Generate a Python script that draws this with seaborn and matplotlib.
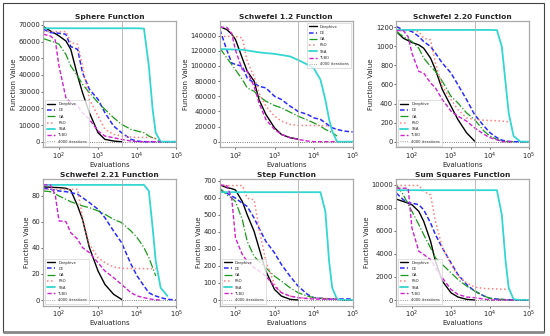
import numpy as np
import pandas as pd
import seaborn as sns
import matplotlib.pyplot as plt
from matplotlib.patches import Rectangle

N = np.nan

# evaluation grid shared by all curves
EVALS = [40, 60, 80, 100, 150, 200, 300, 400, 600, 1000, 1500, 2500, 4000,
         7000, 10000, 15000, 20000, 25000, 30000, 40000, 60000, 100000]

ALGOS = ["Deephive", "DE", "GA", "PSO", "SSA", "TLBO"]

sphere = {
    "Deephive": [69000, 66400, 64800, 63400, 60400, 55400, 39400, 29400, 17400, 5400, 1400, 400, 0] + [N] * 9,
    "DE": [67400, 65400, 65200, 65000, 64400, 57000, 55400, 41400, 31400, 25400, 17400, 9400, 5400, 1400, 400, 0, 0, 0, 0, 0, 0, 0],
    "GA": [61800, 60400, 59500, 58400, 52400, 45400, 39400, 34400, 29400, 23400, 19400, 14400, 10400, 7400, 6400, 5400, 3400, 2400, 1800, 400, N, N],
    "PSO": [66000, 66000, 66000, 66000, 66000, 59400, 58400, 45400, 25400, 15400, 7400, 4400, 3400, 2800, 2600, 2600, 2600, 2400, 1800, N, N, N],
    "SSA": [68000] * 15 + [67800, 45400, 19400, 5400, 0, 0, 0],
    "TLBO": [64400, 63400, 61000, 45400, 26400, 23400, 21400, 17400, 13400, 6400, 3400, 2400, 1400, 400, 0, 0, 0, 0, 0, 0, N, N],
}

schwefel_12 = {
    "Deephive": [152000, 148000, 142000, 135000, 110000, 93000, 80000, 55700, 36000, 18400, 9600, 5300, 3500] + [N] * 9,
    "DE": [148000, 121000, 104000, 102000, 99500, 84000, 77600, 73200, 71000, 60000, 55700, 47000, 40000, 36000, 31600, 29400, 25000, 21000, 18400, 16200, 14000, 13000],
    "GA": [123600, 110500, 102000, 95000, 82000, 71000, 66600, 60000, 53500, 47800, 44700, 39000, 33800, 28500, 25000, 20600, 16200, 14000, 11800, 7500, N, N],
    "PSO": [139000, 139000, 139000, 139000, 137000, 106000, 86000, 64400, 47000, 33800, 27200, 22800, 21500, 21500, 21400, 21200, 21000, 20800, 20600, N, N, N],
    "SSA": [122300, 122000, 121800, 121600, 121400, 120500, 119000, 118000, 117000, 116000, 114500, 112600, 108000, 101700, 97300, 82000, 55700, 29400, 14000, 0, 0, 0],
    "TLBO": [151000, 151000, 143000, 121000, 95000, 93000, 73000, 51300, 29400, 16200, 9600, 5300, 3100, 900, 0, 0, 0, 0, 0, 0, N, N],
}

schwefel_220 = {
    "Deephive": [1155, 1085, 1060, 1040, 1015, 980, 876, 755, 546, 372, 233, 94, 7] + [N] * 9,
    "DE": [1207, 1172, 1165, 1155, 1103, 1050, 998, 929, 824, 720, 598, 442, 285, 163, 94, 42, 17, 8, 4, 0, 0, 0],
    "GA": [1155, 1103, 1075, 1050, 980, 876, 790, 737, 633, 476, 407, 302, 233, 111, 59, 24, 7, 3, 1, 0, N, N],
    "PSO": [1165, 1165, 1165, 1165, 1155, 1085, 1068, 824, 580, 442, 337, 250, 233, 225, 222, 220, 216, 212, 208, N, N, N],
    "SSA": [1172] * 15 + [1170, 998, 616, 302, 59, 0, 0],
    "TLBO": [1165, 1165, 1100, 929, 737, 720, 616, 563, 442, 320, 268, 216, 146, 77, 42, 20, 0, 0, 0, 0, N, N],
}

schwefel_221 = {
    "Deephive": [86.9, 86.7, 86.5, 86.4, 85.9, 84.4, 72.3, 62, 40.3, 22.3, 12, 4.4, 0.5] + [N] * 9,
    "DE": [85.9, 85.1, 84.5, 83.8, 83.3, 82.6, 81.3, 78.7, 74.9, 69.7, 63.3, 53, 44.1, 27.4, 18.5, 10.8, 5.6, 4, 3.1, 1.8, 0.5, 0],
    "GA": [83.8, 83.3, 81.5, 80, 77.4, 75.6, 73.6, 72.3, 71, 68.5, 65.9, 62, 59.5, 53, 48, 40.3, 32.6, 24.9, 18.5, N, N, N],
    "PSO": [85.1] * 7 + [63.3, 42.8, 32.6, 28.7, 25.4, 24.4, 24.2, 24.2, 24.1, 24.1, 24.1, 24.1, N, N, N],
    "SSA": [88.5] * 16 + [83.8, 55.6, 30, 9.5, 3.1, N],
    "TLBO": [88.5, 88.5, 81, 60.8, 60.3, 51.8, 46.7, 40.3, 36.4, 28.7, 22.3, 17.2, 12, 5.6, 3.1, 1.8, 1, 0.5, 0.2, 0, N, N],
}

step = {
    "Deephive": [677, 661, 655, 647, 579, 501, 404, 306, 170, 62, 23, 4, 0] + [N] * 9,
    "DE": [647, 628, 612, 599, 569, 550, 482, 423, 345, 277, 209, 140, 82, 33, 14, 10, 8, 7, 7, 6, 6, 6],
    "GA": [657, 618, 600, 579, 472, 345, 257, 228, 189, 140, 111, 72, 43, 23, 14, 10, 8, 7, 7, 6, N, N],
    "PSO": [673] * 5 + [599, 589, 423, 228, 92, 43, 23, 14, 11, 10, 9, 9, 8, 8, 8, N, N],
    "SSA": [634] * 16 + [521, 228, 72, 4, 0, 0],
    "TLBO": [677, 673, 600, 365, 267, 228, 189, 170, 140, 82, 43, 23, 14, 8, 6, 5, 5, 4, 4, 4, N, N],
}

sum_squares = {
    "Deephive": [8750, 8550, 8400, 8265, 7690, 6830, 5100, 3370, 1640, 630, 260, 60, 0] + [N] * 9,
    "DE": [9270, 8700, 8450, 8410, 8265, 7830, 6680, 5670, 4520, 3225, 2220, 1350, 780, 345, 145, 80, 50, 30, 20, 0, 0, 0],
    "GA": [9990, 9130, 8300, 7690, 6540, 5670, 4520, 3660, 3080, 2360, 1790, 1210, 780, 345, 145, 80, 50, 30, 20, 0, N, N],
    "PSO": [9940, 9940, 9940, 9940, 9940, 9420, 9130, 6830, 4520, 3080, 2070, 1500, 1120, 1000, 980, 960, 940, 930, 920, N, N, N],
    "SSA": [9530] * 16 + [7400, 3370, 1065, 60, 0, 0],
    "TLBO": [9700, 9700, 9700, 6250, 4230, 3950, 3510, 2790, 1930, 920, 490, 260, 200, 80, 0, 0, 0, 0, 0, 0, N, N],
}

PANELS = [
    ("Sphere Function", sphere, "lower left"),
    ("Schwefel 1.2 Function", schwefel_12, "upper right"),
    ("Schwefel 2.20 Function", schwefel_220, "lower left"),
    ("Schwefel 2.21 Function", schwefel_221, "lower left"),
    ("Step Function", step, "lower left"),
    ("Sum Squares Function", sum_squares, "lower left"),
]

STYLES = {
    "Deephive": dict(color="black", linestyle="-", linewidth=1.0),
    "DE": dict(color="#2b2bff", linestyle=(0, (3, 1.5)), linewidth=1.1),
    "GA": dict(color="#1a9a1a", linestyle="-.", linewidth=0.9),
    "PSO": dict(color="#ff7f7f", linestyle=":", linewidth=1.1),
    "SSA": dict(color="#33d6d0", linestyle="-", linewidth=1.3),
    "TLBO": dict(color="#d020d0", linestyle=(0, (3, 1.5)), linewidth=1.0),
}

sns.set_theme(style="ticks")
plt.rcParams["font.family"] = ["DejaVu Sans"]

fig, axes = plt.subplots(2, 3, figsize=(5.5, 3.36), dpi=100)
fig.subplots_adjust(left=0.079, right=0.962, top=0.938, bottom=0.090,
                    wspace=0.33, hspace=0.25)

for ax, (title, data, loc) in zip(axes.flat, PANELS):
    for algo in ALGOS:
        df = pd.DataFrame({"Evaluations": EVALS, "Value": data[algo]}).dropna()
        sns.lineplot(data=df, x="Evaluations", y="Value", ax=ax, label=algo,
                     **STYLES[algo])
    ax.axvline(4000, color="#b0b0b0", linestyle="-", linewidth=0.6,
               label="4000 iterations")
    ax.axhline(0, color="#555555", linestyle=":", linewidth=0.6)
    ax.set_xscale("log")
    ax.set_xlim(40, 1e5)
    ax.set_title(title, fontsize=5.4, fontweight="bold", pad=1.5)
    ax.set_xlabel("Evaluations", fontsize=5.0, labelpad=0)
    ax.set_ylabel("Function Value", fontsize=5.0, labelpad=1)
    ax.tick_params(axis="both", which="major", labelsize=4.9, length=1.5,
                   width=0.5, pad=0.8)
    ax.tick_params(axis="x", which="minor", length=0)
    for sp in ax.spines.values():
        sp.set_visible(True)
        sp.set_color("#aaaaaa")
        sp.set_linewidth(0.9)
    leg = ax.legend(loc=loc, fontsize=2.7, frameon=True, handlelength=2.2,
                    borderpad=0.5, labelspacing=0.6, fancybox=False)
    leg.get_frame().set_edgecolor("#bbbbbb")
    leg.get_frame().set_linewidth(0.4)
    leg.get_lines()[-1].set_linestyle(":")
    leg.get_lines()[-1].set_color("#888888")

# outer frame of the figure
fig.patches.append(Rectangle((3 / 550, 4 / 336), 541 / 550, 329 / 336,
                             transform=fig.transFigure, fill=False,
                             edgecolor="#444444", linewidth=0.8))
fig.patches.append(Rectangle((3 / 550, 4 / 336), 541 / 550, 0,
                             transform=fig.transFigure, fill=False,
                             edgecolor="#888888", linewidth=2.0))

fig.savefig("out.png", dpi=100)
